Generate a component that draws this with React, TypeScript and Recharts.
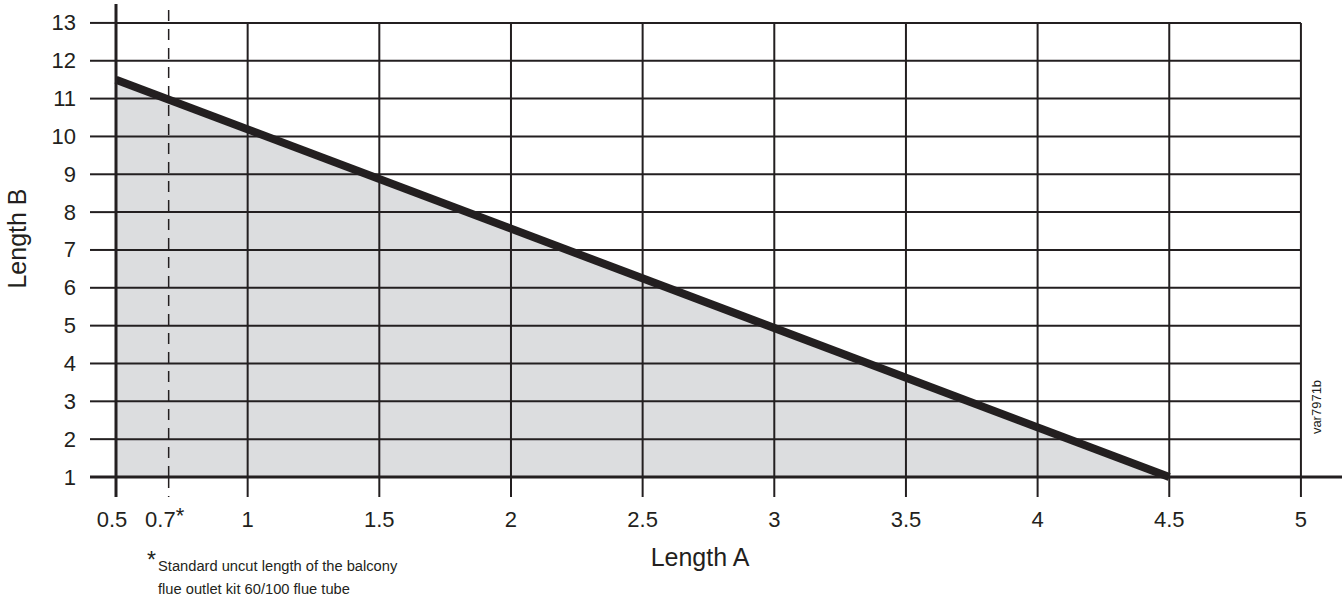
import React from "react";
import { ComposedChart, Area, XAxis, YAxis, ReferenceLine } from "recharts";

const lengthA = [0.5, 4.5];
const lengthB = [11.5, 1];
const xTicks = [0.5, 0.7, 1, 1.5, 2, 2.5, 3, 3.5, 4, 4.5, 5];
const yTicks = [1, 2, 3, 4, 5, 6, 7, 8, 9, 10, 11, 12, 13];
const gridA = [1, 1.5, 2, 2.5, 3, 3.5, 4, 4.5, 5];
const gridB = [2, 3, 4, 5, 6, 7, 8, 9, 10, 11, 12, 13];
const standardA = 0.7;

const data = lengthA.map((a, i) => ({ a, b: lengthB[i] }));

const INK = "#231f20";
const FONT = "'Liberation Sans', Arial, sans-serif";

function XTick({ x, y, payload }: any) {
  const v = payload.value;
  if (v === standardA) {
    return (
      <g>
        <line x1={x} x2={x} y1={y} y2={y + 20} stroke={INK} strokeWidth={1.5} strokeDasharray="11 8" />
        <text x={x + 7} y={y + 50} textAnchor="end" fontSize={22} fontFamily={FONT} fill={INK}>
          0.7
        </text>
        <text x={x + 7} y={y + 46} fontSize={22} fontFamily={FONT} fill={INK}>
          *
        </text>
      </g>
    );
  }
  return (
    <g>
      <line x1={x} x2={x} y1={y} y2={y + 20} stroke={INK} strokeWidth={v === 0.5 ? 3 : 2} />
      <text x={v === 0.5 ? x - 4 : x} y={y + 50} textAnchor="middle" fontSize={22} fontFamily={FONT} fill={INK}>
        {v}
      </text>
    </g>
  );
}

function YTick({ x, y, payload }: any) {
  const v = payload.value;
  return (
    <g>
      <line x1={x - 26} x2={x} y1={y} y2={y} stroke={INK} strokeWidth={v === 1 ? 3 : 2} />
      <text x={x - 40} y={y + 7.5} textAnchor="end" fontSize={22} fontFamily={FONT} fill={INK}>
        {v}
      </text>
    </g>
  );
}

function BottomNotes({ viewBox }: any) {
  const { x, y } = viewBox;
  return (
    <g fontFamily={FONT} fill={INK}>
      <text x={x + 584} y={y + 89} textAnchor="middle" fontSize={25}>
        Length A
      </text>
      <text x={x + 31} y={y + 91} fontSize={23}>
        *
      </text>
      <text x={x + 42} y={y + 94} fontSize={14.7}>
        Standard uncut length of the balcony
      </text>
      <text x={x + 42} y={y + 117} fontSize={14.7}>
        flue outlet kit 60/100 flue tube
      </text>
      <text
        x={x + 1205}
        y={y - 70}
        textAnchor="middle"
        fontSize={13}
        transform={`rotate(-90 ${x + 1205} ${y - 70})`}
      >
        var7971b
      </text>
    </g>
  );
}

function LeftTitle({ viewBox }: any) {
  const { x, y, height } = viewBox;
  const cx = x + 26;
  const cy = y + height / 2 - 2;
  return (
    <text
      x={cx}
      y={cy}
      textAnchor="middle"
      fontSize={25}
      fontFamily={FONT}
      fill={INK}
      transform={`rotate(-90 ${cx} ${cy})`}
    >
      Length B
    </text>
  );
}

export default function App() {
  return (
    <div style={{ position: "absolute", left: 0, top: 0, width: 1342, height: 607, background: "#fff" }}>
      <ComposedChart width={1342} height={607} data={data} margin={{ top: 4, right: 0, left: 0, bottom: 0 }}>
        <XAxis
          dataKey="a"
          type="number"
          domain={[0.5, 5.156]}
          ticks={xTicks}
          interval={0}
          height={130}
          tickSize={0}
          tickMargin={0}
          tickLine={false}
          tick={<XTick />}
          axisLine={{ stroke: INK, strokeWidth: 3 }}
          label={{ content: (p: any) => <BottomNotes {...p} /> }}
        />
        <YAxis
          type="number"
          domain={[1, 13.5]}
          ticks={yTicks}
          interval={0}
          width={116}
          tickSize={0}
          tickMargin={0}
          tickLine={false}
          tick={<YTick />}
          axisLine={{ stroke: INK, strokeWidth: 3 }}
          label={{ content: (p: any) => <LeftTitle {...p} /> }}
        />
        <Area
          dataKey="b"
          type="linear"
          stroke="none"
          fill="#dcdddf"
          fillOpacity={1}
          isAnimationActive={false}
          dot={false}
          activeDot={false}
        />
        {gridB.map((b) => (
          <ReferenceLine
            key={`h${b}`}
            segment={[
              { x: 0.5, y: b },
              { x: 5, y: b },
            ]}
            stroke={INK}
            strokeWidth={2}
          />
        ))}
        {gridA.map((a) => (
          <ReferenceLine
            key={`v${a}`}
            segment={[
              { x: a, y: 1 },
              { x: a, y: 13 },
            ]}
            stroke={INK}
            strokeWidth={2}
          />
        ))}
        <ReferenceLine x={standardA} stroke={INK} strokeWidth={1.5} strokeDasharray="11 8" />
        <Area
          dataKey="b"
          type="linear"
          stroke={INK}
          strokeWidth={8}
          fill="none"
          isAnimationActive={false}
          dot={false}
          activeDot={false}
        />
      </ComposedChart>
    </div>
  );
}
